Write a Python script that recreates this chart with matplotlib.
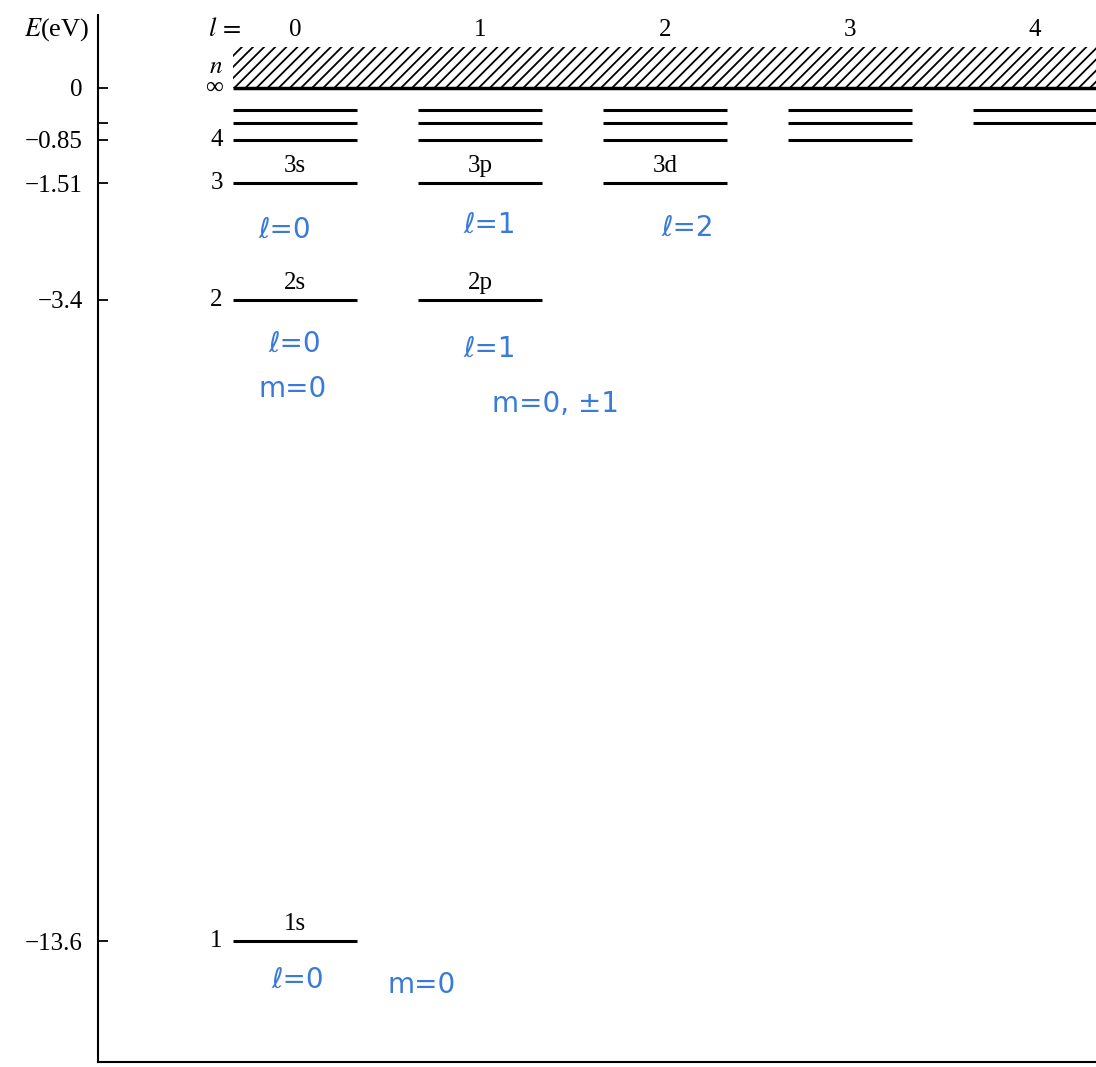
import numpy as np
import matplotlib.pyplot as plt

plt.rcParams['font.family'] = ['Liberation Serif', 'DejaVu Serif']
plt.rcParams['mathtext.fontset'] = 'stix'
plt.rcParams['hatch.linewidth'] = 1.3

# hydrogen levels E_n = -13.6/n^2 (eV)
n_levels = [1, 2, 3, 4, 5, 6]
energies = [-13.6, -3.4, -1.51, -0.85, -0.54, -0.38]
l_values = [0, 1, 2, 3, 4]

# named subshells
sub_n = [1, 2, 2, 3, 3, 3]
sub_l = [0, 0, 1, 0, 1, 2]
sub_names = ['1s', '2s', '2p', '3s', '3p', '3d']

# axis ticks
tick_E = [0, -0.54, -0.85, -1.51, -3.4, -13.6]
tick_labels = ['0', '', '\u22120.85', '\u22121.51', '\u22123.4', '\u221213.6']

# n labels on the left of the l=0 column
row_E = [0, -0.85, -1.51, -3.4, -13.6]
row_labels = ['\u221e', '4', '3', '2', '1']

# handwritten notes under the levels
note_n = [3, 3, 3, 2, 2, 2, 2, 1, 1]
note_l = [0, 1, 2, 0, 0, 1, 1, 0, 0]
note_text = ['\u2113=0', '\u2113=1', '\u2113=2', '\u2113=0', 'm=0', '\u2113=1', 'm=0, \u00b11', '\u2113=0', 'm=0']
note_off = [(-10, -47), (10, -42), (23, -45), (0, -44), (-2, -89), (10, -49), (75, -104), (3, -39), (127, -44)]

# diagram is not to scale: piecewise scale for the energy axis
E_knots = np.array([-15.5, -13.6, -3.4, -1.51, -0.85, -0.54, -0.38, 0.0, 1.0])
y_knots = -np.array([1062, 941, 300, 183, 140, 123, 110, 88, 15], dtype=float)

def fwd(e):
    return np.interp(e, E_knots, y_knots)

def inv(y):
    return np.interp(y, y_knots, E_knots)

W, H = 1096, 1067
fig = plt.figure(figsize=(W / 100, H / 100), dpi=100)
ax = fig.add_axes([98 / W, (H - 1062) / H, (W - 98) / W, (1062 - 15) / H])
ax.set_yscale('function', functions=(fwd, inv))
ax.set_ylim(E_knots[0], E_knots[-1])
ax.set_xlim((98 - 295) / 185, (W - 295) / 185)

half = 0.333
lw = 2.2
fs = 18

# continuum
ax.fill_between([-half, 4.6], 0, 0.56, hatch='///', facecolor='none', edgecolor='k', linewidth=0)
ax.hlines(0, -half, 4.6, color='k', lw=2.5)

# bound levels
for n, E in zip(n_levels, energies):
    for l in l_values:
        if l < n:
            ax.hlines(E, l - half, l + half, color='k', lw=lw)

for n, l, name in zip(sub_n, sub_l, sub_names):
    ax.annotate(name, (l, energies[n - 1]), xytext=(0, 12.5), textcoords='offset points',
                ha='center', va='center', fontsize=fs)

for E, lab in zip(row_E, row_labels):
    ax.text(-0.39, E, lab, ha='right', va='center', fontsize=fs)
ax.text(-0.43, 0.29, r'$n$', ha='center', va='center', fontsize=fs)

# column header
ax.text(-0.38, 0.795, r'$l\,=$', ha='center', va='center', fontsize=fs + 1)
for l in l_values:
    ax.text(l, 0.795, str(l), ha='center', va='center', fontsize=fs)

for n, l, txt, (dx, dy) in zip(note_n, note_l, note_text, note_off):
    ax.annotate(txt, (l, energies[n - 1]), xytext=(dx * 0.72, dy * 0.72), textcoords='offset points',
                ha='center', va='center', fontsize=20, color='#3a7ad8', family='DejaVu Sans')

ax.set_yticks(tick_E)
ax.set_yticklabels(tick_labels)
ax.yaxis.set_minor_locator(plt.NullLocator())
ax.tick_params(axis='y', direction='in', length=7, width=1.3, labelsize=fs, pad=11)
ax.set_xticks([])
ax.spines['top'].set_visible(False)
ax.spines['right'].set_visible(False)
ax.spines['left'].set_linewidth(1.5)
ax.spines['bottom'].set_linewidth(1.5)

fig.text(57 / W, 1 - 30 / H, r'$E$(eV)', ha='center', va='center', fontsize=fs + 1)

fig.savefig('out.png', dpi=100)
